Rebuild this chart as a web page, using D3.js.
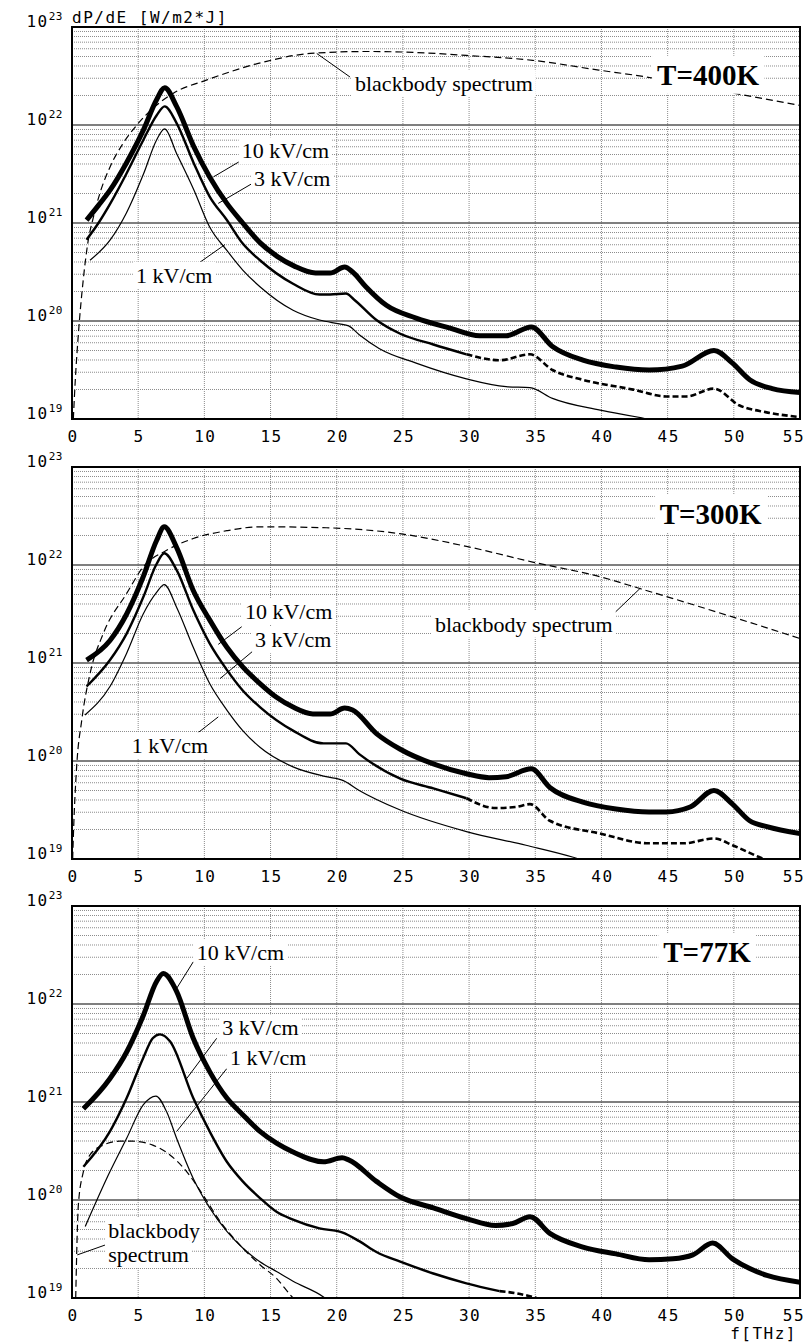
<!DOCTYPE html>
<html lang="en">
<head>
<meta charset="utf-8">
<script src="https://d3js.org/d3.v7.min.js"></script>
<title>dP/dE spectra</title>
<style>
  body { margin: 0; background: #fff; }
  svg { display: block; }
  .mono { font-family: "DejaVu Sans Mono", monospace; font-size: 16px; letter-spacing: 1.5px; }
  .lab { font-family: "Liberation Serif", "Times New Roman", serif; font-size: 22px; }
  .temp { font-family: "Liberation Serif", "Times New Roman", serif; font-size: 29px; font-weight: bold; }
</style>
</head>
<body>
<svg id="chart"></svg>
<script>
// ---- data: [f in THz, log10(dP/dE)] ----
const fTicks = [0, 5, 10, 15, 20, 25, 30, 35, 40, 45, 50, 55];
const decades = [19, 20, 21, 22, 23];
const temps = ["T=400K", "T=300K", "T=77K"];
const fieldLabels = ["10 kV/cm", "3 kV/cm", "1 kV/cm"];

// T = 400K
const bb400 = [[0.1,19.0],[0.25,19.4],[0.5,19.9],[0.85,20.42],[1.2,20.8],[1.6,21.05],[2.1,21.3],[2.9,21.58],[3.8,21.8],[4.9,22.0],[6.2,22.18],[7.6,22.32],[10.2,22.46],[14.7,22.65],[18,22.73],[22.2,22.75],[26,22.74],[29.8,22.71],[34.8,22.66],[39.8,22.56],[43.4,22.49],[47,22.4],[51.4,22.29],[55,22.2]];
const e10_400 = [[1.1,21.03],[2.0,21.18],[2.9,21.34],[4.1,21.61],[5.4,21.95],[6.4,22.26],[7.0,22.38],[7.9,22.19],[9.2,21.78],[10.4,21.47],[11.7,21.2],[12.9,21.0],[14.2,20.8],[15.5,20.66],[16.8,20.56],[18.4,20.49],[19.5,20.49],[20.6,20.55],[21.2,20.5],[22.2,20.35],[23.75,20.16],[26,20.03],[28.5,19.93],[30.8,19.85],[32.8,19.85],[34.7,19.94],[36.3,19.74],[38.6,19.6],[41.1,19.53],[43.6,19.5],[46.1,19.54],[48.5,19.7],[49.9,19.57],[51.2,19.4],[52.9,19.31],[55,19.27]];
const e3_400 = [[1.1,20.83],[2.0,21.0],[2.9,21.2],[4.1,21.5],[5.4,21.85],[6.4,22.1],[7.0,22.19],[7.9,22.02],[9.2,21.61],[10.4,21.27],[11.7,21.03],[12.9,20.79],[14.2,20.62],[16.7,20.38],[18.7,20.27],[19.5,20.27],[20.7,20.28],[21.3,20.22],[23,20.01],[24.8,19.87],[27.3,19.76],[29.8,19.66],[32.3,19.6],[34.6,19.66],[36.3,19.5],[38.6,19.4],[42.4,19.3],[44.9,19.23],[46.4,19.23],[48.5,19.31],[50.4,19.14],[52.4,19.07],[55,19.02]];
const e1_400 = [[1.36,20.62],[2.9,20.83],[4.1,21.1],[5.4,21.5],[6.4,21.85],[7.0,21.96],[7.9,21.71],[9.2,21.34],[10.4,20.96],[11.7,20.72],[12.9,20.52],[14.2,20.35],[16.7,20.11],[18.7,20.01],[20.2,19.97],[20.9,19.95],[21.7,19.86],[23.2,19.72],[26,19.57],[29.8,19.41],[32.8,19.33],[34.6,19.32],[36.3,19.21],[39.9,19.09],[43.4,19.0],[44,18.98]];

// T = 300K
const bb300 = [[0.05,19.0],[0.1,19.22],[0.35,19.94],[0.73,20.41],[1.36,20.89],[2.36,21.3],[4.13,21.71],[5.38,21.98],[7.15,22.15],[9.16,22.27],[11.7,22.35],[14.2,22.39],[19.2,22.38],[24.75,22.32],[29.8,22.19],[34.8,22.03],[39.9,21.88],[42.9,21.76],[49.9,21.47],[55,21.25]];
const e10_300 = [[1.1,21.03],[2.87,21.23],[4.13,21.5],[5.38,21.88],[6.39,22.25],[6.97,22.39],[7.9,22.18],[9.16,21.74],[10.4,21.44],[11.7,21.16],[12.9,20.96],[14.2,20.79],[15.45,20.65],[16.7,20.55],[18.2,20.48],[19.5,20.48],[20.6,20.54],[21.2,20.52],[23,20.28],[24.8,20.12],[27.3,19.97],[29.8,19.87],[31.5,19.83],[32.8,19.84],[34.7,19.92],[36.1,19.73],[38.6,19.58],[41.1,19.51],[43.6,19.48],[44.9,19.48],[46.7,19.53],[48.5,19.7],[49.9,19.56],[51.2,19.39],[52.5,19.33],[55,19.26]];
const e3_300 = [[1.1,20.76],[2.87,21.03],[4.13,21.3],[5.38,21.67],[6.39,22.01],[6.97,22.12],[7.9,21.95],[9.16,21.54],[10.4,21.2],[11.7,20.93],[12.9,20.72],[14.2,20.55],[16.7,20.31],[19,20.18],[20.7,20.18],[21.7,20.07],[24.8,19.82],[27.3,19.72],[29.8,19.62],[32,19.52],[33.5,19.53],[34.6,19.56],[36.1,19.39],[39.9,19.26],[43.6,19.16],[46.2,19.16],[48.5,19.21],[49.9,19.14],[51.9,19.02],[52.6,18.98]];
const e1_300 = [[0.98,20.47],[2.87,20.76],[4.13,21.1],[5.38,21.5],[6.39,21.72],[6.97,21.8],[7.9,21.57],[9.16,21.16],[10.4,20.79],[11.7,20.52],[12.9,20.31],[14.2,20.14],[16.7,19.94],[19.2,19.84],[20.5,19.8],[21.7,19.7],[24.8,19.5],[29.8,19.28],[34.3,19.14],[37.8,19.02],[38.5,18.99]];

// T = 77K
const bb77 = [[0.28,19.0],[0.48,19.95],[0.86,20.29],[1.36,20.46],[2.36,20.56],[3.6,20.6],[4.6,20.6],[6.1,20.56],[7.4,20.46],[8.66,20.29],[9.9,20.05],[11.2,19.78],[12.9,19.51],[14.2,19.34],[15.45,19.2],[16.5,19.03],[16.7,19.0]];
const e10_77 = [[0.86,20.93],[2.87,21.24],[4.13,21.51],[5.38,21.88],[6.39,22.23],[6.9,22.31],[7.9,22.13],[9.16,21.65],[10.4,21.31],[11.7,21.04],[12.9,20.87],[14.2,20.7],[15.45,20.58],[16.7,20.49],[19,20.39],[20.4,20.43],[20.9,20.41],[23,20.19],[24.8,20.03],[27.3,19.92],[29.8,19.81],[32,19.74],[33.3,19.76],[34.6,19.83],[36.1,19.66],[38.6,19.52],[41.1,19.45],[43.6,19.39],[45.4,19.4],[46.9,19.44],[48.4,19.56],[49.9,19.4],[51.2,19.3],[52.5,19.23],[55,19.16]];
const e3_77 = [[0.86,20.34],[2.87,20.7],[4.13,21.04],[5.38,21.45],[6.1,21.65],[6.64,21.69],[7.4,21.62],[9.16,21.04],[10.4,20.7],[11.7,20.39],[12.9,20.19],[14.2,20.02],[15.45,19.88],[16.7,19.8],[18.7,19.71],[20.4,19.67],[21.7,19.58],[23,19.47],[24.8,19.37],[27.3,19.25],[29.8,19.15],[32.3,19.07],[33.5,19.05],[35.1,19.0]];
const e1_77 = [[1.0,19.73],[2.87,20.29],[4.13,20.63],[5.38,20.97],[6.34,21.06],[7.15,20.9],[7.9,20.63],[9.16,20.22],[10.4,19.92],[11.7,19.68],[12.9,19.51],[14.2,19.37],[15.45,19.27],[16.7,19.17],[19,19.01],[19.1,19.0]];

// where the 3 kV/cm curve turns dashed
const dashFrom = [29.8, 29.8, 32.3];

// ---- layout ----
const W = 809, H = 1342;
const left = 72, right = 800, panelH = 392;
const tops = [27, 467, 906];

const panels = [
  { bb: bb400, e10: e10_400, e3: e3_400, e1: e1_400 },
  { bb: bb300, e10: e10_300, e3: e3_300, e1: e1_300 },
  { bb: bb77,  e10: e10_77,  e3: e3_77,  e1: e1_77 }
];

// annotation anchors in data units [f, log10]
const notes = [
  { t: [44.2, 22.41],
    lab: [[12.82, 21.66], [13.75, 21.38], [4.84, 20.39]],
    lead: [[[12.69,21.63],[10.68,21.47]], [[13.7,21.41],[11.05,21.2]], [[9.67,20.6],[11.56,20.78]]],
    bbText: [[21.38, 22.35, "blackbody spectrum"]], bbLead: [[18.49,22.73],[21.0,22.49]] },
  { t: [44.4, 22.42],
    lab: [[13.07, 21.45], [13.83, 21.16], [4.51, 20.08]],
    lead: [[[12.82,21.37],[11.05,21.19]], [[13.83,21.14],[11.18,20.84]], [[9.16,20.25],[11.05,20.45]]],
    bbText: [[27.42, 21.32, "blackbody spectrum"]], bbLead: [[42.91,21.76],[40.9,21.5]] },
  { t: [44.67, 22.43],
    lab: [[9.42, 22.45], [11.36, 21.68], [11.94, 21.38]],
    lead: [[[9.16,22.43],[7.91,22.16]], [[10.93,21.65],[8.67,21.24]], [[11.69,21.34],[7.91,20.70]]],
    bbText: [[2.74, 19.61, "blackbody"], [2.74, 19.37, "spectrum"]], bbLead: [[2.49,19.54],[0.4,19.44]] }
];

const svg = d3.select("#chart").attr("width", W).attr("height", H);
svg.append("rect").attr("width", W).attr("height", H).attr("fill", "#fff");

const x = d3.scaleLinear().domain([0, 55]).range([left, right]);

// white box behind a text so the grid stops around it
function boxed(sel, pad) {
  const b = sel.node().getBBox();
  const r = document.createElementNS("http://www.w3.org/2000/svg", "rect");
  sel.node().parentNode.insertBefore(r, sel.node());
  d3.select(r).attr("x", b.x - pad).attr("y", b.y - pad + 2)
    .attr("width", b.width + 2 * pad).attr("height", b.height + 2 * pad - 4).attr("fill", "#fff");
}

panels.forEach((p, i) => {
  const top = tops[i];
  const y = d3.scaleLog().domain([1e19, 1e23]).range([top + panelH, top]);
  const Y = e => y(Math.pow(10, e));
  const g = svg.append("g");

  // minor grid
  const minors = [];
  decades.slice(0, -1).forEach(d => { for (let m = 2; m <= 9; m++) minors.push(m * Math.pow(10, d)); });
  g.selectAll(".minor").data(minors).join("line")
    .attr("x1", left).attr("x2", right)
    .attr("y1", d => y(d)).attr("y2", d => y(d))
    .attr("stroke", "#8c8c8c").attr("stroke-width", 1).attr("stroke-dasharray", "1,1");
  g.selectAll(".vgrid").data(fTicks.slice(1, -1)).join("line")
    .attr("x1", d => x(d)).attr("x2", d => x(d))
    .attr("y1", top).attr("y2", top + panelH)
    .attr("stroke", "#8c8c8c").attr("stroke-width", 1).attr("stroke-dasharray", "1,1");
  g.selectAll(".major").data(decades.slice(1, -1)).join("line")
    .attr("x1", left).attr("x2", right)
    .attr("y1", d => Y(d)).attr("y2", d => Y(d))
    .attr("stroke", "#555").attr("stroke-width", 1.6);

  // curves
  const clipId = "clip" + i;
  svg.append("clipPath").attr("id", clipId).append("rect")
    .attr("x", left).attr("y", top).attr("width", right - left).attr("height", panelH);
  const cg = g.append("g").attr("clip-path", `url(#${clipId})`);
  const line = d3.line().x(d => x(d[0])).y(d => Y(d[1])).curve(d3.curveMonotoneX);

  cg.append("path").attr("d", line(p.bb)).attr("fill", "none")
    .attr("stroke", "#000").attr("stroke-width", 1.2).attr("stroke-dasharray", "7,4");
  cg.append("path").attr("d", line(p.e1)).attr("fill", "none")
    .attr("stroke", "#000").attr("stroke-width", 1.2);
  const solid3 = p.e3.filter(d => d[0] <= dashFrom[i]);
  const dash3 = p.e3.filter(d => d[0] >= dashFrom[i]);
  cg.append("path").attr("d", line(solid3)).attr("fill", "none")
    .attr("stroke", "#000").attr("stroke-width", 2.4);
  cg.append("path").attr("d", line(dash3)).attr("fill", "none")
    .attr("stroke", "#000").attr("stroke-width", 2.6).attr("stroke-dasharray", "6,3");
  cg.append("path").attr("d", line(p.e10)).attr("fill", "none")
    .attr("stroke", "#000").attr("stroke-width", 5).attr("stroke-linejoin", "round");

  // frame
  g.append("rect").attr("x", left).attr("y", top).attr("width", right - left).attr("height", panelH)
    .attr("fill", "none").attr("stroke", "#000").attr("stroke-width", 2);

  // annotations
  const n = notes[i];
  const ag = g.append("g");
  fieldLabels.forEach((s, k) => {
    ag.append("line")
      .attr("x1", x(n.lead[k][0][0])).attr("y1", Y(n.lead[k][0][1]))
      .attr("x2", x(n.lead[k][1][0])).attr("y2", Y(n.lead[k][1][1]))
      .attr("stroke", "#000").attr("stroke-width", 1);
    const t = ag.append("text").attr("class", "lab")
      .attr("x", x(n.lab[k][0])).attr("y", Y(n.lab[k][1])).text(s);
    boxed(t, 3);
  });
  ag.append("line")
    .attr("x1", x(n.bbLead[0][0])).attr("y1", Y(n.bbLead[0][1]))
    .attr("x2", x(n.bbLead[1][0])).attr("y2", Y(n.bbLead[1][1]))
    .attr("stroke", "#000").attr("stroke-width", 1);
  n.bbText.forEach(b => {
    const t = ag.append("text").attr("class", "lab").attr("x", x(b[0])).attr("y", Y(b[1])).text(b[2]);
    boxed(t, 3);
  });
  const tt = ag.append("text").attr("class", "temp").attr("x", x(n.t[0])).attr("y", Y(n.t[1])).text(temps[i]);
  boxed(tt, 5);

  // y tick labels
  decades.forEach(d => {
    const t = g.append("text").attr("class", "mono").attr("x", 63).attr("y", Y(d))
      .attr("text-anchor", "end");
    t.append("tspan").text("10");
    t.append("tspan").attr("dy", -7).attr("font-size", 11).attr("letter-spacing", 0.5).text(d);
  });
  // x tick labels (last one pulled in so it stays on the page)
  g.selectAll(".xt").data(fTicks).join("text").attr("class", "mono")
    .attr("x", d => Math.min(x(d) + 1, 794)).attr("y", top + panelH + 23)
    .attr("text-anchor", "middle").text(d => d);
});

svg.append("text").attr("class", "mono").attr("x", left).attr("y", 23)
  .attr("letter-spacing", 2.2).text("dP/dE [W/m2*J]");
svg.append("text").attr("class", "mono").attr("x", 797).attr("y", 1339).attr("text-anchor", "end")
  .attr("font-size", 15).attr("letter-spacing", 2).text("f[THz]");
</script>
</body>
</html>
